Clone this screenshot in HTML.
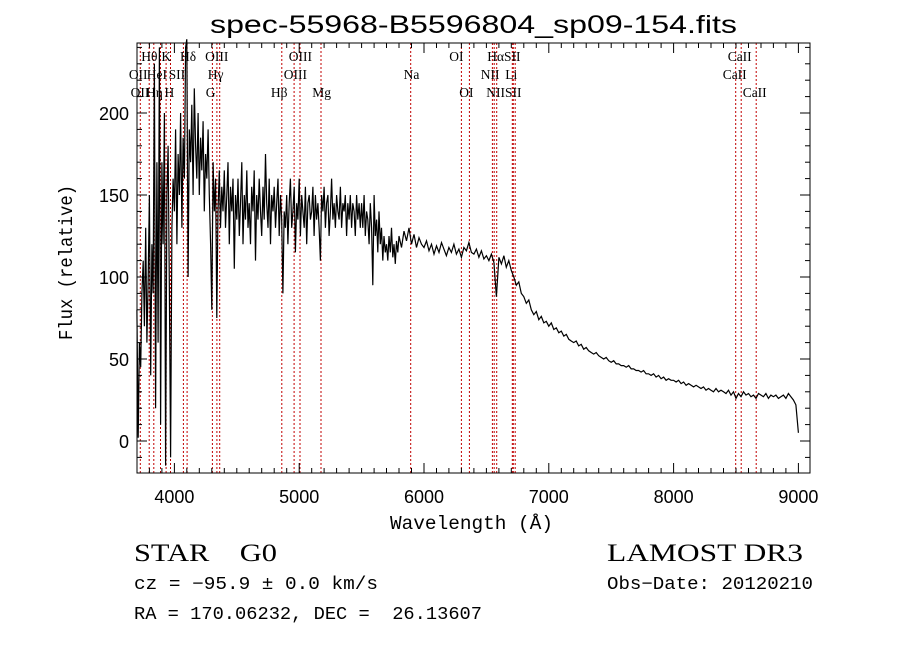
<!DOCTYPE html>
<html><head><meta charset="utf-8">
<style>
html,body{margin:0;padding:0;background:#fff;}
svg{display:block;}
.t{font-family:"Liberation Sans",sans-serif;fill:#000;}
.s{font-family:"Liberation Serif",serif;fill:#000;white-space:pre;}
.m{font-family:"Liberation Mono",monospace;fill:#000;white-space:pre;}
.ll{font-family:"Liberation Serif",serif;font-size:13.5px;fill:#000;text-anchor:middle;}
</style></head>
<body>
<svg id="chart" width="900" height="649" viewBox="0 0 900 649" xmlns="http://www.w3.org/2000/svg">
<rect width="900" height="649" fill="#fff"/>
<text class="t" x="210" y="33" font-size="25" textLength="527" lengthAdjust="spacingAndGlyphs">spec-55968-B5596804_sp09-154.fits</text>
<g id="lines"></g>
<g id="labels"></g>
<path id="spec" fill="none" stroke="#000" stroke-width="1.2"/>
<rect x="137" y="43" width="673" height="430" fill="none" stroke="#000" stroke-width="1"/>
<g id="ticks" stroke="#000" stroke-width="1"></g>
<g id="ticklabels"></g>
<text class="m" x="390" y="529" font-size="19" textLength="163" lengthAdjust="spacingAndGlyphs">Wavelength (Å)</text>
<text class="m" transform="translate(72,340) rotate(-90)" font-size="19" textLength="155" lengthAdjust="spacingAndGlyphs">Flux (relative)</text>
<text class="s" x="134" y="561" font-size="25" textLength="143" lengthAdjust="spacingAndGlyphs">STAR    G0</text>
<text class="s" x="607" y="561" font-size="25" textLength="196" lengthAdjust="spacingAndGlyphs">LAMOST DR3</text>
<text class="m" x="134" y="589" font-size="18" textLength="244" lengthAdjust="spacingAndGlyphs">cz = −95.9 ± 0.0 km/s</text>
<text class="m" x="607" y="589" font-size="18" textLength="206" lengthAdjust="spacingAndGlyphs">Obs−Date: 20120210</text>
<text class="m" x="134" y="619" font-size="18" textLength="348" lengthAdjust="spacingAndGlyphs">RA = 170.06232, DEC =  26.13607</text>
</svg>
<script>
const blueStart = 3700, blueStep = 10;
const blueFlux = [80,2,60,45,90,110,70,130,60,100,
150,40,120,90,230,20,170,60,240,10,
170,120,200,-15,150,180,90,-10,130,160,
140,190,120,175,150,200,130,185,160,240,
245,100,190,170,205,150,215,180,160,200,
150,185,165,195,140,175,160,190,150,120,
80,170,140,160,75,140,165,130,155,140,
165,130,150,170,120,155,140,160,105,150,
135,160,125,145,170,120,150,135,165,130,
145,120,155,140,165,110,150,135,160,140,
125,155,135,175,145,130,160,120,150,140,
155,130,145,160,125,150,135,90,140,130,
150,120,145,160,130,140,155,115,145,135,
160,125,150,140,130,155,120,145,150,135,
140,155,125,150,135,145,130,110,150,140,
155,130,145,150,125,140,160,135,145,130,
150,140,135,155,130,145,140,150,125,145,
135,150,130,145,140,125,150,135,145,130,
145,130,150,125,140,135,120,145,130,95,
150,125,135,115,140,120,130,110,125,115,
120,110,125,115,130,112,120,108,122,115];
const redStart = 5800, redStep = 20;
const redFlux = [125,118,128,122,130,120,126,118,124,120,
118,122,116,120,114,119,115,121,117,113,
118,115,120,114,117,112,118,116,121,115,
114,117,112,116,111,113,110,114,109,88,
112,108,113,106,110,104,100,95,97,90,
88,84,86,80,77,79,74,76,72,73,
70,72,68,69,66,67,64,65,62,61,
60,61,58,59,56,57,55,54,53,54,
52,51,50,51,49,48,49,47,47,46,
46,45,46,44,44,43,43,42,43,41,
41,40,41,39,40,38,39,37,38,37,
37,36,37,35,36,34,35,34,33,34,
33,32,33,31,32,31,30,32,30,31,
30,29,31,28,30,26,29,27,30,28,
29,27,28,26,29,28,27,29,26,28,
27,28,26,27,28,26,29,27,25,22,
5];
const lineWaves = [3727,3798,3835,3889,3934,3969,4072,4102,4305,4341,4363,4861,4959,5007,5175,5894,6300,6364,6548,6563,6583,6708,6716,6731,8498,8542,8662];
const labelNames = ["Hθ","K","Hδ","OIII","OIII","OI","HαSII","CaII","OII","HeI","SII","Hγ","OIII","Na","NII","Li","CaII","OII","Hη","H","G","Hβ","Mg","OI","NIISII","CaII"];
const labelWaves = [3800,3935,4110,4340,5010,6260,6640,8530,3710,3860,4020,4330,4970,5900,6530,6700,8490,3725,3840,3960,4290,4840,5180,6340,6640,8650];
const labelRows = [0,0,0,0,0,0,0,0,1,1,1,1,1,1,1,1,1,2,2,2,2,2,2,2,2,2];
const xTickVals = [4000,5000,6000,7000,8000,9000];
const yTickVals = [0,50,100,150,200];

const X0=137,X1=810,Y0=43,Y1=473, WMIN=3700.6, WMAX=9093, FMIN=-19.5, FMAX=242.7;
const xs = w => X0 + (w-WMIN)/(WMAX-WMIN)*(X1-X0);
const ys = f => Y1 - (f-FMIN)/(FMAX-FMIN)*(Y1-Y0);
const NS="http://www.w3.org/2000/svg";
function mk(tag, parent){const e=document.createElementNS(NS,tag);parent.appendChild(e);return e;}

let d="";
blueFlux.forEach((f,i)=>{d+=(i?"L":"M")+xs(blueStart+i*blueStep).toFixed(1)+","+ys(f).toFixed(1);});
redFlux.forEach((f,i)=>{d+="L"+xs(redStart+i*redStep).toFixed(1)+","+ys(f).toFixed(1);});
document.getElementById("spec").setAttribute("d",d);

const gl=document.getElementById("lines");
lineWaves.forEach(w=>{
  const l=mk("line",gl);
  
  
  const x=xs(w).toFixed(1);
  l.setAttribute("x1",x);l.setAttribute("x2",x);l.setAttribute("y1",Y0);l.setAttribute("y2",Y1);
  l.setAttribute("stroke","#c00000");l.setAttribute("stroke-dasharray","2,2");l.setAttribute("stroke-width","1");
});
const glab=document.getElementById("labels");
labelNames.forEach((n,i)=>{
  const t=mk("text",glab);
  
  
  t.setAttribute("class","ll");
  t.setAttribute("x",xs(labelWaves[i]).toFixed(1));
  t.setAttribute("y",[61,79,97][labelRows[i]]);
  t.textContent=n;
});
const gt=document.getElementById("ticks"), gtl=document.getElementById("ticklabels");
for(let w=3800;w<=9000;w+=100){
  const major=w%1000===0, L=major?10:5, x=xs(w).toFixed(1);
  const a=mk("line",gt);a.setAttribute("x1",x);a.setAttribute("x2",x);a.setAttribute("y1",Y1);a.setAttribute("y2",Y1-L);
  
  
  const b=mk("line",gt);b.setAttribute("x1",x);b.setAttribute("x2",x);b.setAttribute("y1",Y0);b.setAttribute("y2",Y0+L);
  
  
}
for(let f=-10;f<=240;f+=10){
  const major=f%50===0, L=major?10:5, y=ys(f).toFixed(1);
  const a=mk("line",gt);a.setAttribute("x1",X0);a.setAttribute("x2",X0+L);a.setAttribute("y1",y);a.setAttribute("y2",y);
  
  
  const b=mk("line",gt);b.setAttribute("x1",X1);b.setAttribute("x2",X1-L);b.setAttribute("y1",y);b.setAttribute("y2",y);
  
  
}
xTickVals.forEach(v=>{
  const t=mk("text",gtl);
  
  
  t.setAttribute("class","t");t.setAttribute("font-size","18");t.setAttribute("text-anchor","middle");
  t.setAttribute("x",xs(v).toFixed(1));t.setAttribute("y",503);t.textContent=v;
});
yTickVals.forEach(v=>{
  const t=mk("text",gtl);
  
  
  t.setAttribute("class","t");t.setAttribute("font-size","18");t.setAttribute("text-anchor","end");
  t.setAttribute("x",129);t.setAttribute("y",(ys(v)+7).toFixed(1));t.textContent=v;
});
</script>
</body></html>
